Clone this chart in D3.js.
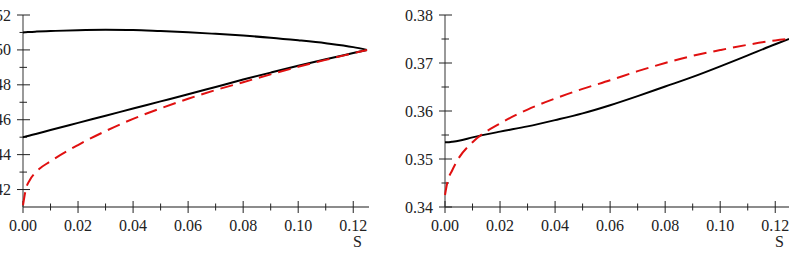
<!DOCTYPE html>
<html>
<head>
<meta charset="utf-8">
<script src="https://cdn.jsdelivr.net/npm/d3@7"></script>
<style>
body { margin: 0; background: #fff; }
svg { display: block; }
text { font-family: "Liberation Serif", "Times New Roman", Times, Tinos, "Noto Serif", "DejaVu Serif", serif; }
</style>
</head>
<body>
<svg id="chart" width="789" height="262"></svg>
<script>
// s values shared by all curves
var sVals = [0, 0.001, 0.0025, 0.005, 0.01, 0.02, 0.03, 0.04, 0.05, 0.06, 0.07, 0.08, 0.09, 0.10, 0.11, 0.12, 0.125];

// left panel
var leftUpper = [0.5100, 0.5101, 0.5103, 0.5105, 0.5108, 0.5113, 0.5115, 0.5114, 0.5108, 0.5101, 0.5092, 0.5082, 0.5070, 0.5055, 0.5038, 0.5016, 0.5000];
var leftLower = [0.4500, 0.4504, 0.4510, 0.4520, 0.4541, 0.4582, 0.4623, 0.4664, 0.4705, 0.4746, 0.4788, 0.4830, 0.4870, 0.4909, 0.4946, 0.4982, 0.5000];
var leftRed   = [0.4110, 0.4200, 0.4255, 0.4305, 0.4362, 0.4455, 0.4535, 0.4605, 0.4665, 0.4720, 0.4770, 0.4815, 0.4860, 0.4903, 0.4943, 0.4981, 0.5000];

// right panel
var rightBlack = [0.3535, 0.3535, 0.3536, 0.3538, 0.3545, 0.3557, 0.3568, 0.3581, 0.3595, 0.3612, 0.3631, 0.3651, 0.3671, 0.3693, 0.3716, 0.3739, 0.3750];
var rightRed   = [0.3425, 0.3455, 0.3475, 0.3502, 0.3535, 0.3574, 0.3603, 0.3626, 0.3646, 0.3664, 0.3683, 0.3700, 0.3715, 0.3727, 0.3738, 0.3747, 0.3750];

var xMajor = [0, 0.02, 0.04, 0.06, 0.08, 0.10, 0.12];
var xMinor = [0.01, 0.03, 0.05, 0.07, 0.09, 0.11];
var leftYMajor = [0.42, 0.44, 0.46, 0.48, 0.50, 0.52];
var leftYMinor = [0.43, 0.45, 0.47, 0.49, 0.51];
var rightYMajor = [0.34, 0.35, 0.36, 0.37, 0.38];
var rightYMinor = [0.345, 0.355, 0.365, 0.375];

var svg = d3.select('#chart');

function drawPanel(left, yDomain, yMajor, yMinor, series) {
	var top = 15, bottom = 207, width = 344;
	var x = d3.scaleLinear().domain([0, 0.125]).range([left, left + width]);
	var y = d3.scaleLinear().domain(yDomain).range([bottom, top]);
	var g = svg.append('g');

	// axis lines
	g.append('line').attr('x1', left).attr('x2', left + width + 2)
		.attr('y1', bottom).attr('y2', bottom)
		.attr('stroke', '#666').attr('stroke-width', 1.5);
	g.append('line').attr('x1', left).attr('x2', left)
		.attr('y1', bottom).attr('y2', top)
		.attr('stroke', '#777').attr('stroke-width', 1.5);

	// x ticks
	g.selectAll('.xmaj').data(xMajor).join('line')
		.attr('x1', function(d) { return x(d); }).attr('x2', function(d) { return x(d); })
		.attr('y1', bottom - 6).attr('y2', bottom + 6)
		.attr('stroke', '#222').attr('stroke-width', 1);
	g.selectAll('.xmin').data(xMinor).join('line')
		.attr('x1', function(d) { return x(d); }).attr('x2', function(d) { return x(d); })
		.attr('y1', bottom - 3.5).attr('y2', bottom + 3.5)
		.attr('stroke', '#222').attr('stroke-width', 1);
	g.selectAll('.xlab').data(xMajor).join('text')
		.attr('x', function(d) { return x(d); }).attr('y', 231)
		.attr('text-anchor', 'middle').attr('font-size', 16).attr('fill', '#222')
		.text(d3.format('.2f'));
	g.append('text').attr('x', x(0.1215)).attr('y', 247)
		.attr('text-anchor', 'middle').attr('font-size', 16).attr('fill', '#222')
		.text('S');

	// y ticks
	g.selectAll('.ymaj').data(yMajor).join('line')
		.attr('x1', left - 6).attr('x2', left + 7)
		.attr('y1', function(d) { return y(d); }).attr('y2', function(d) { return y(d); })
		.attr('stroke', '#222').attr('stroke-width', 1);
	g.selectAll('.ymin').data(yMinor).join('line')
		.attr('x1', left - 3.5).attr('x2', left + 4)
		.attr('y1', function(d) { return y(d); }).attr('y2', function(d) { return y(d); })
		.attr('stroke', '#222').attr('stroke-width', 1);
	g.selectAll('.ylab').data(yMajor).join('text')
		.attr('x', left - 12).attr('y', function(d) { return y(d) + 5.5; })
		.attr('text-anchor', 'end').attr('font-size', 16).attr('fill', '#222')
		.text(d3.format('.2f'));

	var line = d3.line()
		.x(function(d, i) { return x(sVals[i]); })
		.y(function(d) { return y(d); })
		.curve(d3.curveMonotoneX);

	series.forEach(function(s) {
		g.append('path').datum(s.values)
			.attr('d', line)
			.attr('fill', 'none')
			.attr('stroke', s.color)
			.attr('stroke-width', 2)
			.attr('stroke-dasharray', s.dash || null);
	});
}

drawPanel(23, [0.41, 0.52], leftYMajor, leftYMinor, [
	{values: leftUpper, color: '#000'},
	{values: leftLower, color: '#000'},
	{values: leftRed, color: '#e01010', dash: '13,7'}
]);

drawPanel(445, [0.34, 0.38], rightYMajor, rightYMinor, [
	{values: rightBlack, color: '#000'},
	{values: rightRed, color: '#e01010', dash: '13,7'}
]);
</script>
</body>
</html>
